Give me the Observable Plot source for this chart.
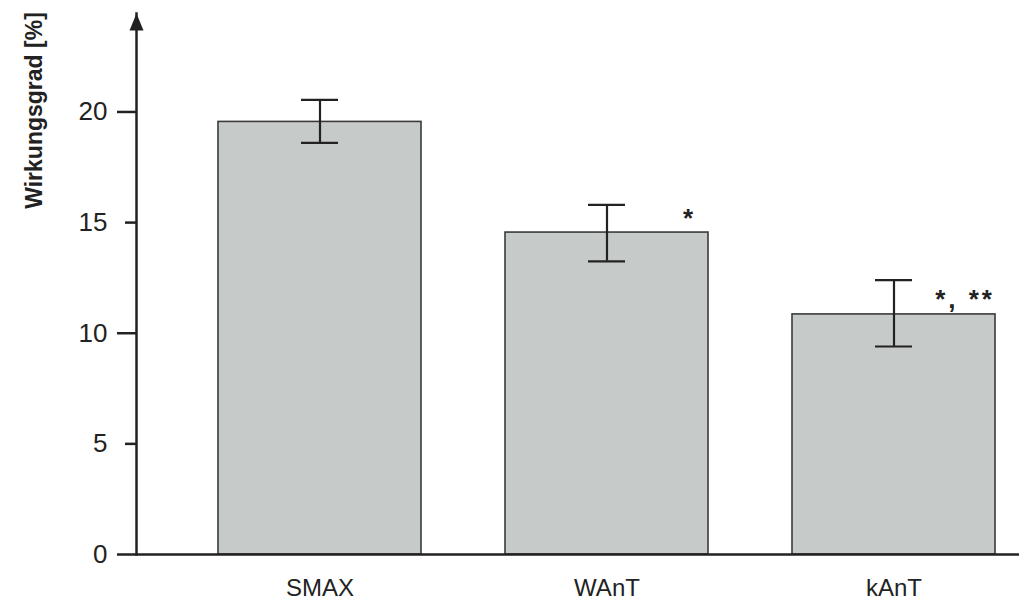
<!DOCTYPE html>
<html>
<head>
<meta charset="utf-8">
<script src="https://cdn.jsdelivr.net/npm/d3@7"></script>
<script src="https://cdn.jsdelivr.net/npm/@observablehq/plot@0.6"></script>
<style>
  html, body { margin: 0; padding: 0; background: #fff; }
  #chart { width: 1019px; height: 601px; }
</style>
</head>
<body>
<div id="chart"></div>
<script>
const categories = ["SMAX", "WAnT", "kAnT"];
const means = [19.55, 14.55, 10.85];
const errLow = [18.6, 13.25, 9.4];
const errHigh = [20.55, 15.8, 12.4];
const annotations = ["", "*", "*, **"];
const annotationY = [null, 15.2, 11.5];
const majorTicks = [0, 10, 20];
const minorTicks = [5, 15];
const yLabel = "Wirkungsgrad [%]";

const data = categories.map((c, i) => ({
  cat: c, val: means[i], lo: errLow[i], hi: errHigh[i],
  note: annotations[i], noteY: annotationY[i]
}));

const ink = "#222";
const font = "'Liberation Sans', Arial, Helvetica, sans-serif";

const arrowHead = {
  draw(ctx) {
    ctx.moveTo(0, 0);
    ctx.lineTo(7, 17);
    ctx.lineTo(-7, 17);
    ctx.closePath();
  }
};

const chart = Plot.plot({
  width: 1019,
  height: 601,
  marginLeft: 136,
  marginRight: 0,
  marginTop: 13,
  marginBottom: 47,
  style: { fontFamily: font, color: ink, background: "#fff" },
  x: { domain: categories, paddingInner: 0.294, paddingOuter: 0.1826, align: 0.771, label: null },
  y: { domain: [0, 24.45], label: null },
  marks: [
    Plot.barY(data, { x: "cat", y: "val", fill: "#c6cbca", stroke: "#3a3a3a", strokeWidth: 1.6 }),
    Plot.ruleX(data, { x: "cat", y1: "lo", y2: "hi", stroke: ink, strokeWidth: 2.2 }),
    Plot.tickY(data, { x: "cat", y: "lo", stroke: ink, strokeWidth: 2.2, insetLeft: 83, insetRight: 83 }),
    Plot.tickY(data, { x: "cat", y: "hi", stroke: ink, strokeWidth: 2.2, insetLeft: 83, insetRight: 83 }),
    Plot.text(data.filter(d => d.note === "*"), { x: "cat", y: "noteY", text: "note", textAnchor: "end", dx: 86, fontSize: 26, fontWeight: "bold", fill: ink }),
    Plot.text(data.filter(d => d.note === "*, **"), { x: "cat", y: "noteY", text: "note", textAnchor: "end", dx: 101, fontSize: 26, fontWeight: "bold", fill: ink }),
    Plot.ruleY([0], { stroke: ink, strokeWidth: 2.5 }),
    Plot.frame({ anchor: "left", stroke: ink, strokeWidth: 2.5 }),
    Plot.dot([0], { frameAnchor: "top-left", symbol: arrowHead, fill: ink, stroke: "none", r: 8 }),
    Plot.axisY(majorTicks, { ticks: majorTicks, tickSize: 19, tickPadding: 10, fontSize: 26, strokeWidth: 2.5, label: null }),
    Plot.axisY(minorTicks, { ticks: minorTicks, tickSize: 11, tickPadding: 18, fontSize: 26, strokeWidth: 2.5, label: null }),
    Plot.axisX({ tickSize: 0, tickPadding: 24, fontSize: 24, label: null }),
    Plot.text([yLabel], { frameAnchor: "top-left", rotate: -90, textAnchor: "middle", dx: -111, dy: 97, fontSize: 23, fontWeight: "bold", fill: ink })
  ]
});
d3.select(chart).selectAll("text").filter(function () { return this.textContent === "*, **"; })
  .attr("letter-spacing", "3px");
document.getElementById("chart").appendChild(chart);
</script>
</body>
</html>
